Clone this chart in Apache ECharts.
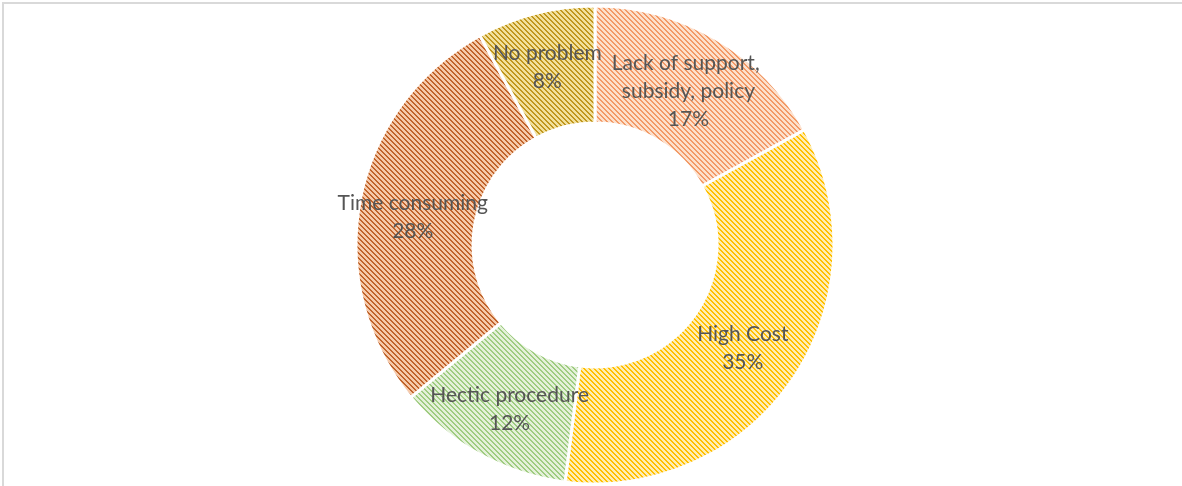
<!DOCTYPE html>
<html>
<head>
<meta charset="utf-8">
<script src="https://cdn.jsdelivr.net/npm/echarts@6/dist/echarts.min.js"></script>
<style>
  html, body { margin: 0; padding: 0; background: #fff; }
  #chart { width: 1182px; height: 486px; }
</style>
</head>
<body>
<div id="chart"></div>
<script>
// Survey responses: main problems faced (share of respondents, %)
const categories = [
  'Lack of support, subsidy, policy',
  'High Cost',
  'Hectic procedure',
  'Time consuming',
  'No problem'
];
const shares = [17, 35, 12, 28, 8];

// Stripe colours per slice: [line colour, background colour]
const stripeColors = [
  ['#f29a66', '#fde0cc'],
  ['#ffbf00', '#ffedb3'],
  ['#9fcc80', '#e4f1da'],
  ['#c0642a', '#f6c9aa'],
  ['#c0961c', '#f2e09c']
];

// Build a small repeating tile with downward diagonal stripes
function stripeTile(fg, bg) {
  const s = 5;
  const c = document.createElement('canvas');
  c.width = c.height = s;
  const ctx = c.getContext('2d');
  ctx.fillStyle = bg;
  ctx.fillRect(0, 0, s, s);
  ctx.fillStyle = fg;
  for (let y = 0; y < s; y++) {
    for (let x = 0; x < s; x++) {
      if ((((x - y) % s) + s) % s < 2) ctx.fillRect(x, y, 1, 1);
    }
  }
  return c;
}

// Small nudges of the label blocks inside their slices
const labelOffsets = [[0, 4], [-4, 0], [3, 3], [-2, 7], [-2, 0]];

const data = categories.map((name, i) => {
  const item = {
    name,
    value: shares[i],
    itemStyle: {
      color: { image: stripeTile(stripeColors[i][0], stripeColors[i][1]), repeat: 'repeat' }
    },
    label: { offset: labelOffsets[i] }
  };
  // the long category name wraps onto two lines
  if (name.length > 20) {
    item.label.width = 180;
    item.label.overflow = 'break';
  }
  return item;
});

const chart = echarts.init(document.getElementById('chart'), null, { renderer: 'canvas' });
chart.setOption({
  animation: false,
  backgroundColor: '#ffffff',
  graphic: [{
    type: 'polyline',
    shape: { points: [[3, 486], [3, 3], [1182, 3]] },
    style: { stroke: '#d9d9d9', lineWidth: 2, fill: null },
    silent: true
  }],
  series: [{
    type: 'pie',
    center: [595, 245],
    radius: [122, 239],
    startAngle: 90,
    clockwise: true,
    avoidLabelOverlap: false,
    minShowLabelAngle: 0,
    itemStyle: { borderColor: '#ffffff', borderWidth: 3 },
    label: {
      show: true,
      position: 'inside',
      formatter: '{b}\n{c}%',
      color: '#555555',
      fontFamily: 'Lato',
      fontSize: 21,
      lineHeight: 28,
      align: 'center'
    },
    labelLayout: { hideOverlap: false },
    labelLine: { show: false },
    emphasis: { disabled: true },
    data
  }]
});
</script>
</body>
</html>
